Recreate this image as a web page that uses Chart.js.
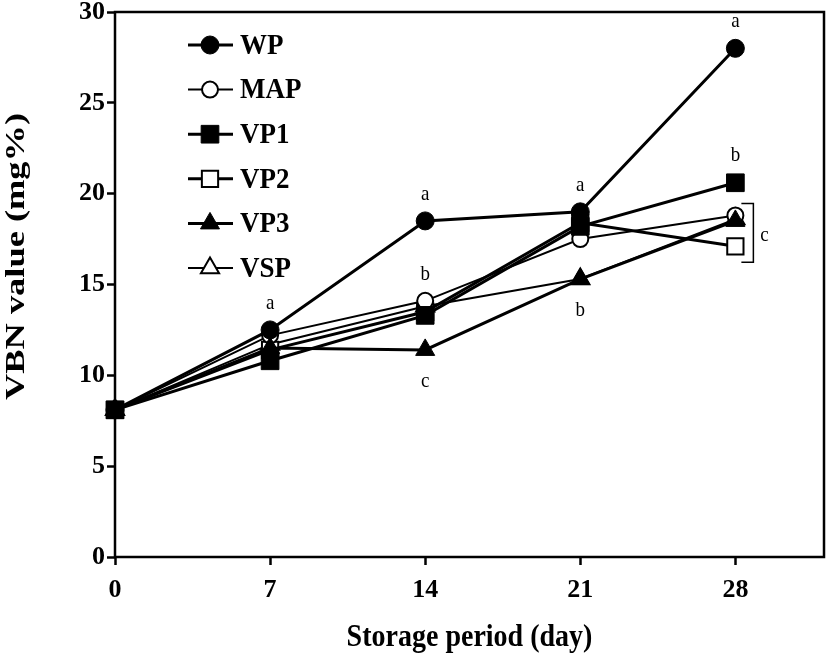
<!DOCTYPE html>
<html>
<head>
<meta charset="utf-8">
<title>VBN value</title>
<script src="https://cdn.jsdelivr.net/npm/chart.js@4.4.1/dist/chart.umd.min.js"></script>
<style>
  html, body { margin: 0; padding: 0; background: #fff; }
  #wrap { width: 827px; height: 658px; }
</style>
</head>
<body>
<div id="wrap"><canvas id="vbnChart" width="827" height="658"></canvas></div>
<script>
// ========== DATA ==========
const days = [0, 7, 14, 21, 28];
const yTicks = [0, 5, 10, 15, 20, 25, 30];

const wpValues  = [8.1, 12.5, 18.5, 19.0, 28.0];
const mapValues = [8.1, 12.2, 14.1, 17.5, 18.8];
const vp1Values = [8.1, 10.8, 13.3, 18.2, 20.6];
const vp2Values = [8.1, 11.4, 13.5, 18.4, 17.1];
const vp3Values = [8.1, 11.5, 11.4, 15.3, 18.5];
const vspValues = [8.1, 11.7, 13.8, 15.3, 18.6];

// significance letters: [series, day, letter, side]
const letters = [
  ["WP", 7, "a", "above"],
  ["WP", 14, "a", "above"],
  ["MAP", 14, "b", "above"],
  ["VP3", 14, "c", "below"],
  ["WP", 21, "a", "above"],
  ["VP3", 21, "b", "below"],
  ["WP", 28, "a", "above"],
  ["VP1", 28, "b", "above"]
];
// series sharing letter "c" on day 28 (bracket)
const bracketGroup = ["MAP", "VP2", "VP3", "VSP"];
const bracketLetter = "c";

// ========== STYLES ==========
const SERIF = "'Times New Roman', 'Liberation Serif', serif";

function makeSeries(label, values, style, filled, radius, lineWidth, order) {
  return {
    label: label,
    data: days.map((d, i) => ({ x: d, y: values[i] })),
    borderColor: "#000",
    borderWidth: lineWidth,
    pointStyle: style,
    pointRadius: radius,
    pointHoverRadius: radius,
    pointBackgroundColor: filled ? "#000" : "#fff",
    pointBorderColor: "#000",
    pointBorderWidth: filled ? 1 : 2,
    tension: 0,
    clip: false,
    order: order
  };
}

const datasets = [
  makeSeries("WP", wpValues, "circle", true, 9, 3, 0),
  makeSeries("MAP", mapValues, "circle", false, 8, 2, 3),
  makeSeries("VP1", vp1Values, "rect", true, 12.5, 3, 1),
  makeSeries("VP2", vp2Values, "rect", false, 11.5, 3, 4),
  makeSeries("VP3", vp3Values, "triangle", true, 11, 3, 2),
  makeSeries("VSP", vspValues, "triangle", false, 10.5, 2, 5)
];

// draw text a bit taller than wide, like the source figure
function tallText(ctx, txt, x, y, sy) {
  ctx.save();
  ctx.translate(x, y);
  ctx.scale(1, sy);
  ctx.fillText(txt, 0, 0);
  ctx.restore();
}

// ========== PLUGINS ==========
const framePlugin = {
  id: "frame",
  beforeDatasetsDraw(chart) {
    const { ctx, chartArea: a } = chart;
    ctx.save();
    ctx.strokeStyle = "#000";
    ctx.lineWidth = 2.5;
    ctx.strokeRect(a.left, a.top, a.right - a.left, a.bottom - a.top);
    ctx.restore();
  }
};

const legendPlugin = {
  id: "insideLegend",
  afterDatasetsDraw(chart) {
    const { ctx, chartArea: a } = chart;
    ctx.save();
    chart.data.datasets.forEach((ds, i) => {
      const y = a.top + 33 + i * 44.6;
      const x0 = a.left + 73;
      ctx.strokeStyle = "#000";
      ctx.lineWidth = ds.borderWidth;
      ctx.beginPath();
      ctx.moveTo(x0, y);
      ctx.lineTo(x0 + 45, y);
      ctx.stroke();
      ctx.fillStyle = ds.pointBackgroundColor;
      ctx.strokeStyle = "#000";
      ctx.lineWidth = ds.pointBorderWidth;
      Chart.helpers.drawPoint(ctx, {
        pointStyle: ds.pointStyle,
        radius: ds.pointRadius,
        rotation: 0,
        borderWidth: ds.pointBorderWidth
      }, x0 + 22, y);
      ctx.fillStyle = "#000";
      ctx.font = "bold 27px " + SERIF;
      ctx.textBaseline = "middle";
      ctx.textAlign = "left";
      tallText(ctx, ds.label, x0 + 52, y + 1, 1.12);
    });
    ctx.restore();
  }
};

const lettersPlugin = {
  id: "letters",
  afterDatasetsDraw(chart) {
    const { ctx, scales } = chart;
    const xs = scales.x, ys = scales.y;
    const valueOf = (name, day) => {
      const ds = chart.data.datasets.find(d => d.label === name);
      return ds.data.find(p => p.x === day).y;
    };
    ctx.save();
    ctx.fillStyle = "#000";
    ctx.font = "19px " + SERIF;
    ctx.textAlign = "center";
    ctx.textBaseline = "middle";
    letters.forEach(([name, day, txt, side]) => {
      const px = xs.getPixelForValue(day);
      const py = ys.getPixelForValue(valueOf(name, day));
      tallText(ctx, txt, px, side === "above" ? py - 27 : py + 31, 1.15);
    });

    // bracket on the last day
    const lastDay = days[days.length - 1];
    const vals = bracketGroup.map(n => valueOf(n, lastDay));
    const top = ys.getPixelForValue(Math.max(...vals)) - 12;
    const bottom = ys.getPixelForValue(Math.min(...vals)) + 16;
    const bx = xs.getPixelForValue(lastDay) + 18;
    ctx.strokeStyle = "#000";
    ctx.lineWidth = 1.5;
    ctx.beginPath();
    ctx.moveTo(bx - 12, top);
    ctx.lineTo(bx, top);
    ctx.lineTo(bx, bottom);
    ctx.lineTo(bx - 12, bottom);
    ctx.stroke();
    tallText(ctx, bracketLetter, bx + 11, (top + bottom) / 2 + 2, 1.15);
    ctx.restore();
  }
};

const titlesPlugin = {
  id: "axisTitles",
  afterDraw(chart) {
    const { ctx, chartArea: a } = chart;
    ctx.save();
    ctx.fillStyle = "#000";
    ctx.font = "bold 28px " + SERIF;
    ctx.textAlign = "center";
    ctx.textBaseline = "middle";
    tallText(ctx, "Storage period (day)", (a.left + a.right) / 2, chart.height - 20, 1.12);

    ctx.translate(17, (a.top + a.bottom) / 2 - 28);
    ctx.rotate(-Math.PI / 2);
    ctx.scale(1.3, 1);
    ctx.fillText("VBN value (mg%)", 0, 0);
    ctx.restore();
  }
};

// ========== CHART ==========
document.addEventListener("DOMContentLoaded", () => {
  new Chart(document.getElementById("vbnChart"), {
    type: "line",
    data: { datasets: datasets },
    options: {
      responsive: false,
      animation: false,
      layout: { autoPadding: false, padding: { top: 12, right: 3, left: 0, bottom: 0 } },
      plugins: {
        legend: { display: false },
        tooltip: { enabled: false }
      },
      scales: {
        x: {
          type: "linear",
          min: 0,
          max: 32,
          afterBuildTicks: (scale) => { scale.ticks = days.map(v => ({ value: v })); },
          afterFit: (scale) => {
            scale.height = 101;
            scale.paddingLeft = 0;
            scale.paddingRight = 0;
          },
          border: { display: false },
          grid: {
            drawOnChartArea: false,
            drawTicks: true,
            tickLength: 8,
            tickWidth: 2.5,
            tickColor: "#000"
          },
          ticks: {
            color: "#000",
            padding: 10,
            maxRotation: 0,
            font: { family: SERIF, size: 26, weight: "bold" }
          }
        },
        y: {
          min: 0,
          max: 30,
          afterBuildTicks: (scale) => { scale.ticks = yTicks.map(v => ({ value: v })); },
          afterFit: (scale) => {
            scale.width = 115;
            scale.paddingTop = 0;
            scale.paddingBottom = 0;
          },
          border: { display: false },
          grid: {
            drawOnChartArea: false,
            drawTicks: true,
            tickLength: 8,
            tickWidth: 2.5,
            tickColor: "#000"
          },
          ticks: {
            color: "#000",
            padding: 2,
            font: { family: SERIF, size: 26, weight: "bold" }
          }
        }
      }
    },
    plugins: [framePlugin, legendPlugin, lettersPlugin, titlesPlugin]
  });
});
</script>
</body>
</html>
